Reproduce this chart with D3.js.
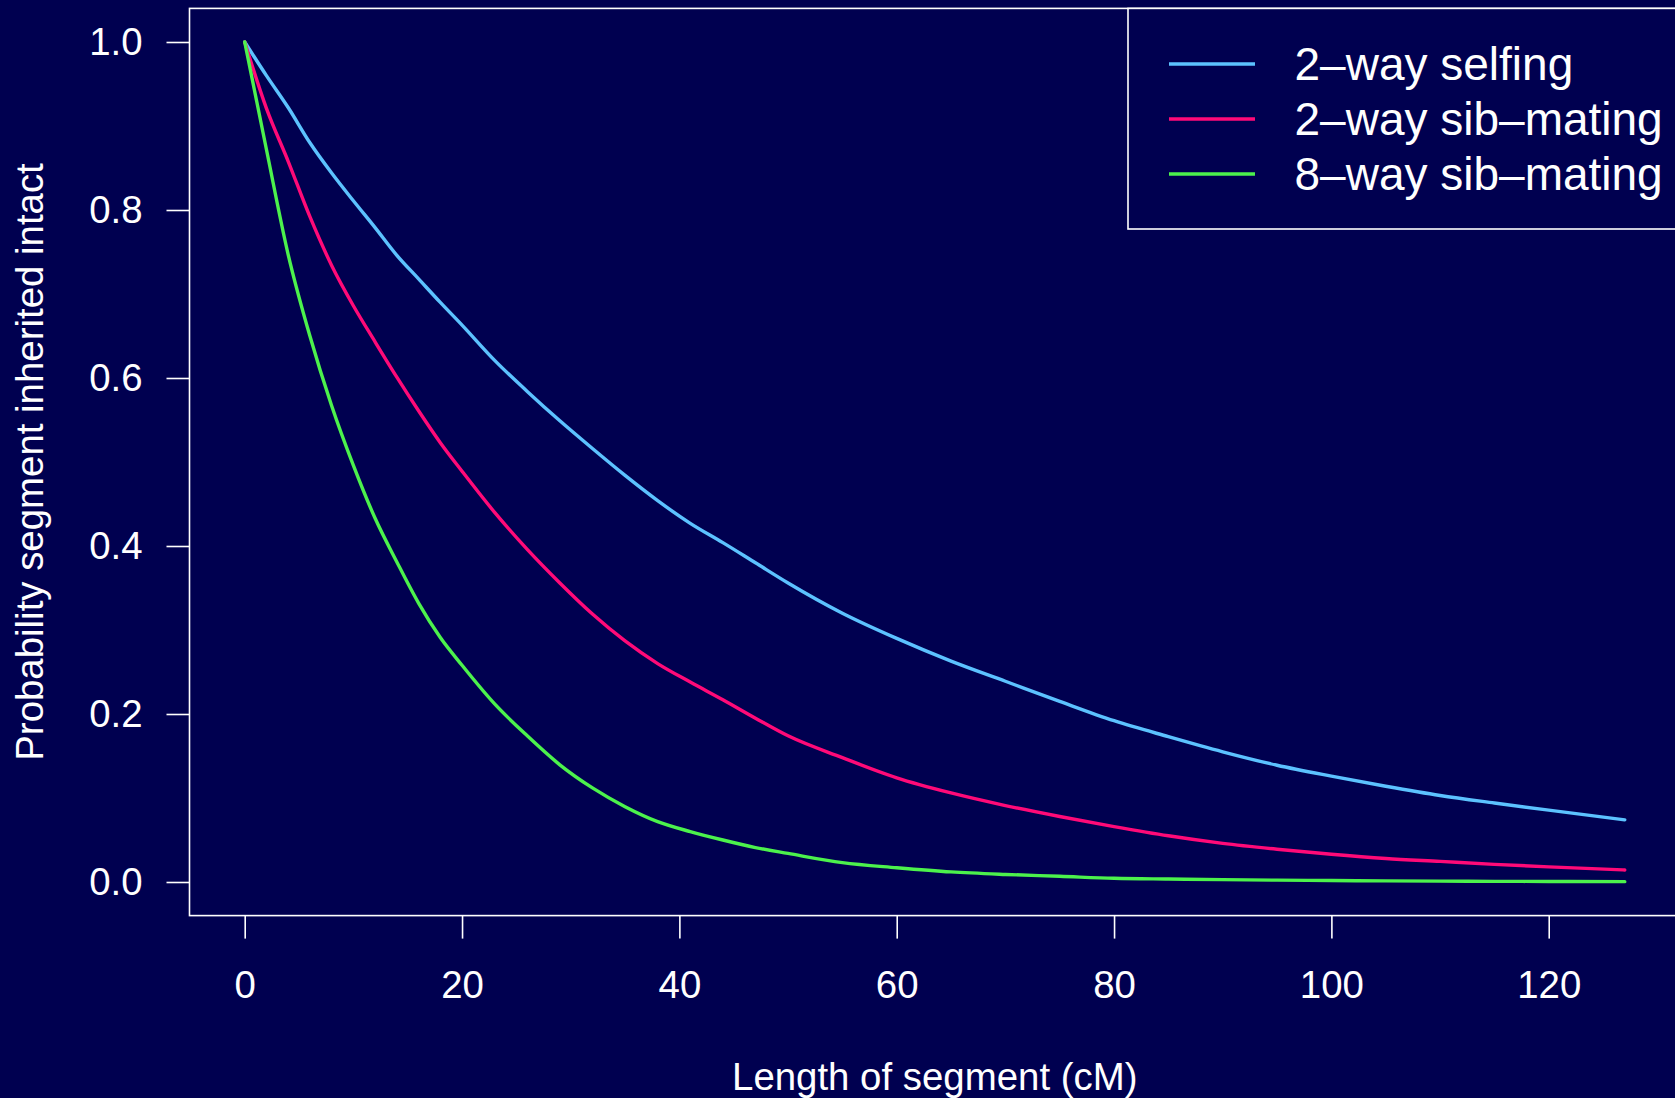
<!DOCTYPE html>
<html>
<head>
<meta charset="utf-8">
<script src="https://cdn.jsdelivr.net/npm/d3@7"></script>
<style>
  html, body { margin: 0; padding: 0; background: #000050; overflow: hidden; }
  svg { display: block; }
  text { font-family: "Liberation Sans", Arial, Helvetica, sans-serif; fill: #ffffff; }
</style>
</head>
<body>
<svg id="chart" width="1675" height="1098"></svg>
<script>
// ---- data ----
const lengths = [0, 2, 4, 6, 8, 10, 12, 14, 16, 18, 20, 23, 26, 29, 32, 35, 38, 41, 44, 47, 50,
                 55, 60, 65, 70, 75, 80, 85, 90, 95, 100, 105, 110, 115, 120, 127];
const selfing2 = [1.0, 0.960, 0.922, 0.880, 0.844, 0.811, 0.779, 0.746, 0.718, 0.690, 0.663, 0.621, 0.584, 0.549, 0.516, 0.484, 0.454, 0.427, 0.404, 0.380, 0.356,
                  0.320, 0.290, 0.263, 0.239, 0.215, 0.192, 0.173, 0.155, 0.139, 0.126, 0.114, 0.103, 0.094, 0.0855, 0.074];
const sib2     = [1.0, 0.921, 0.858, 0.792, 0.734, 0.686, 0.643, 0.601, 0.561, 0.523, 0.489, 0.440, 0.396, 0.356, 0.319, 0.287, 0.260, 0.238, 0.217, 0.195, 0.174,
                  0.148, 0.124, 0.106, 0.091, 0.078, 0.066, 0.055, 0.046, 0.039, 0.033, 0.028, 0.0245, 0.021, 0.018, 0.0143];
const sib8     = [1.0, 0.872, 0.747, 0.650, 0.567, 0.496, 0.433, 0.381, 0.332, 0.291, 0.258, 0.212, 0.174, 0.1395, 0.112, 0.0897, 0.0719, 0.060, 0.050, 0.041, 0.034,
                  0.023, 0.017, 0.012, 0.009, 0.0068, 0.0044, 0.0035, 0.0028, 0.0022, 0.0017, 0.0013, 0.0010, 0.0008, 0.0006, 0.0004];
const seriesNames = ["2–way selfing", "2–way sib–mating", "8–way sib–mating"];
const seriesColors = ["#5cc2ff", "#ff0a78", "#4cf24c"];
const xTicks = [0, 20, 40, 60, 80, 100, 120];
const yTicks = [0.0, 0.2, 0.4, 0.6, 0.8, 1.0];
const xTitle = "Length of segment (cM)";
const yTitle = "Probability segment inherited intact";

// ---- layout ----
const svg = d3.select("#chart");
const plot = { left: 189.5, top: 8.4, right: 1680, bottom: 915.6 };
const fontSize = 38.4;
const legendFont = 46;

const xMax = d3.max(lengths);
const xPad = 0.04 * xMax;
const x = d3.scaleLinear().domain([-xPad, xMax + xPad]).range([plot.left, plot.right]);
const y = d3.scaleLinear().domain([-0.04, 1.04]).range([plot.bottom, plot.top]);

svg.append("rect").attr("x", 0).attr("y", 0).attr("width", 1675).attr("height", 1098).attr("fill", "#000050");

// axes
const xAxis = d3.axisBottom(x).tickValues(xTicks).tickFormat(d3.format("d")).tickSize(23).tickPadding(32);
const gx = svg.append("g").attr("transform", `translate(0,${plot.bottom})`).call(xAxis);
const yAxis = d3.axisLeft(y).tickValues(yTicks).tickFormat(d3.format(".1f")).tickSize(23).tickPadding(24);
const gy = svg.append("g").attr("transform", `translate(${plot.left},0)`).call(yAxis);
[gx, gy].forEach(g => {
  g.select(".domain").remove();
  g.selectAll(".tick line").attr("stroke", "#ffffff").attr("stroke-width", 1.6);
  g.selectAll(".tick text").attr("fill", "#ffffff").style("font-size", fontSize + "px")
    .style("font-family", '"Liberation Sans", Arial, Helvetica, sans-serif');
});

// lines
const allSeries = [selfing2, sib2, sib8];
const line = d3.line().x((d, i) => x(lengths[i])).y(d => y(d)).curve(d3.curveMonotoneX);
allSeries.forEach((vals, k) => {
  svg.append("path").datum(vals).attr("d", line)
    .attr("fill", "none").attr("stroke", seriesColors[k]).attr("stroke-width", 3.4)
    .attr("stroke-linejoin", "round").attr("stroke-linecap", "round");
});

// plot box
svg.append("rect").attr("x", plot.left).attr("y", plot.top)
  .attr("width", plot.right - plot.left).attr("height", plot.bottom - plot.top)
  .attr("fill", "none").attr("stroke", "#ffffff").attr("stroke-width", 1.6);

// legend
const leg = { left: 1128, top: plot.top, bottom: 229 };
svg.append("rect").attr("x", leg.left).attr("y", leg.top).attr("width", 700).attr("height", leg.bottom - leg.top)
  .attr("fill", "#000050").attr("stroke", "#ffffff").attr("stroke-width", 1.6);
const legY = d3.scalePoint().domain(seriesNames).range([64, 174]);
seriesNames.forEach((name, k) => {
  const yy = legY(name);
  svg.append("line").attr("x1", 1169).attr("x2", 1255).attr("y1", yy).attr("y2", yy)
    .attr("stroke", seriesColors[k]).attr("stroke-width", 3.4);
  svg.append("text").attr("x", 1294.5).attr("y", yy + 16).style("font-size", legendFont + "px").text(name);
});

// titles
svg.append("text").attr("x", (plot.left + plot.right) / 2).attr("y", 1090)
  .attr("text-anchor", "middle").style("font-size", fontSize + "px").text(xTitle);
svg.append("text").attr("transform", `translate(43,${(plot.top + plot.bottom) / 2}) rotate(-90)`)
  .attr("text-anchor", "middle").style("font-size", fontSize + "px").text(yTitle);
</script>
</body>
</html>
